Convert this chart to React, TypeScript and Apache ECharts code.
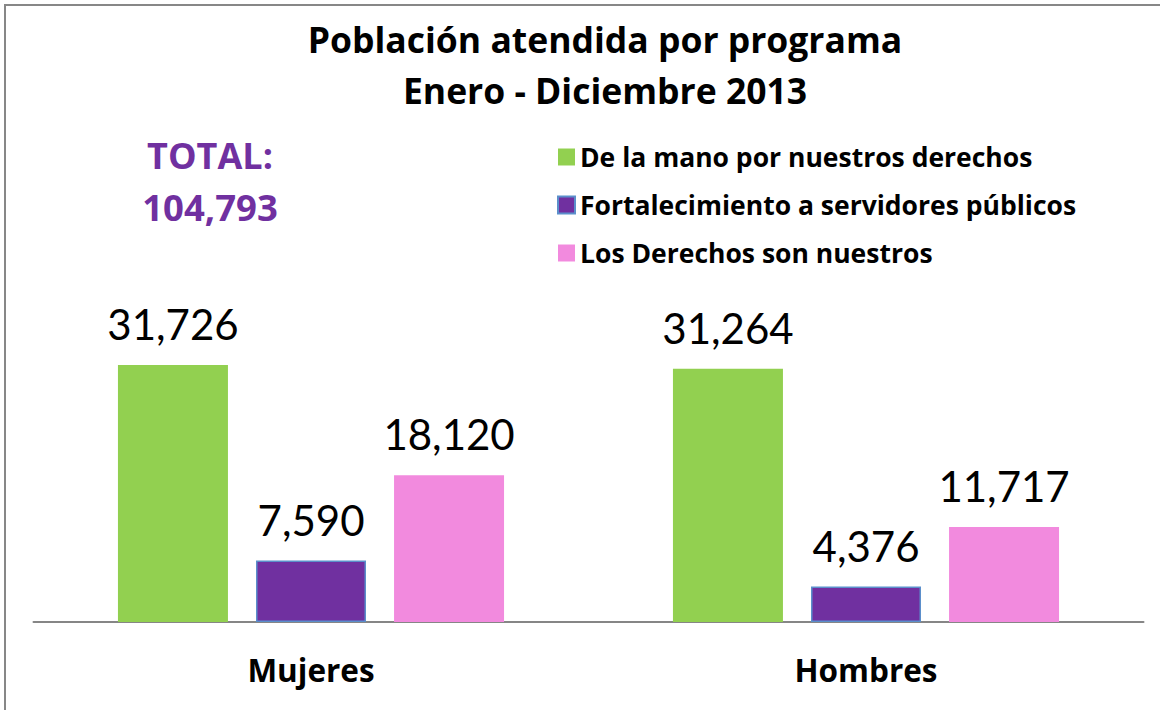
import React, { useEffect, useRef } from "react";
import * as echarts from "echarts";

const categories = ["Mujeres", "Hombres"];
const seriesNames = [
  "De la mano por nuestros derechos",
  "Fortalecimiento a servidores públicos",
  "Los Derechos son nuestros",
];
const deLaMano = [31726, 31264];
const fortalecimiento = [7590, 4376];
const losDerechos = [18120, 11717];
const totalLines = ["TOTAL:", "104,793"];
const titleText = "Población atendida por programa\nEnero - Diciembre 2013";

const FONT = "Lato, 'Noto Sans', sans-serif";
const BOLD = "'Open Sans', 'Noto Sans', sans-serif";

export default function App() {
  const ref = useRef<HTMLDivElement>(null);
  useEffect(() => {
    document.body.style.margin = "0";
    if (!ref.current) return;
    const chart = echarts.init(ref.current, null, { renderer: "svg" });
    const label = {
      show: true,
      position: "top" as const,
      distance: 20,
      fontSize: 42,
      fontFamily: FONT,
      color: "#000",
      formatter: (p: any) => Number(p.value).toLocaleString("en-US"),
    };
    chart.setOption({
      animation: false,
      backgroundColor: "#fff",
      title: {
        text: titleText,
        left: 600,
        top: 8,
        textAlign: "center",
        textStyle: {
          fontFamily: BOLD,
          fontWeight: "bold",
          fontSize: 35.5,
          lineHeight: 51,
          color: "#000",
        },
      },
      legend: {
        orient: "vertical",
        left: 552,
        top: 137,
        itemWidth: 17,
        itemHeight: 17,
        itemGap: 18,
        icon: "rect",
        data: seriesNames,
        textStyle: {
          fontFamily: BOLD,
          fontWeight: "bold",
          fontSize: 26.5,
          lineHeight: 30,
          color: "#000",
        },
        selectedMode: false,
      },
      graphic: [
        {
          type: "rect",
          shape: { x: 5, y: 5, width: 1300, height: 900 },
          style: { fill: "none", stroke: "#878787", lineWidth: 2 },
          silent: true,
          z: 10,
        },
        {
          type: "text",
          x: 210,
          y: 155,
          style: {
            text: totalLines[0],
            fontFamily: BOLD,
            fontWeight: "bold",
            fontSize: 36,
            fill: "#7030A0",
            textAlign: "center",
            textVerticalAlign: "middle",
          },
        },
        {
          type: "text",
          x: 210,
          y: 207,
          style: {
            text: totalLines[1],
            fontFamily: BOLD,
            fontWeight: "bold",
            fontSize: 36.5,
            fill: "#7030A0",
            textAlign: "center",
            textVerticalAlign: "middle",
          },
        },
      ],
      grid: { left: 33.5, right: 16.5, top: 338.5, bottom: 88, containLabel: false },
      xAxis: {
        type: "category",
        data: categories,
        axisLine: { show: true, lineStyle: { color: "#868686", width: 2 } },
        axisTick: { show: false },
        axisLabel: {
          margin: 31,
          fontFamily: BOLD,
          fontWeight: "bold",
          fontSize: 31.5,
          color: "#000",
        },
      },
      yAxis: {
        type: "value",
        min: 0,
        max: 35000,
        show: false,
        splitLine: { show: false },
      },
      series: [
        {
          name: seriesNames[0],
          type: "bar",
          data: deLaMano,
          barWidth: 110,
          barGap: "25.5%",
          itemStyle: { color: "#92D050" },
          label,
        },
        {
          name: seriesNames[1],
          type: "bar",
          data: fortalecimiento,
          barWidth: 110,
          barGap: "25.5%",
          itemStyle: { color: "#7030A0", borderColor: "#5B8FCB", borderWidth: 1.5 },
          label,
        },
        {
          name: seriesNames[2],
          type: "bar",
          data: losDerechos,
          barWidth: 110,
          barGap: "25.5%",
          itemStyle: { color: "#F28ADE" },
          label,
        },
      ],
    });
    return () => chart.dispose();
  }, []);
  return <div ref={ref} style={{ width: 1160, height: 710 }} />;
}
